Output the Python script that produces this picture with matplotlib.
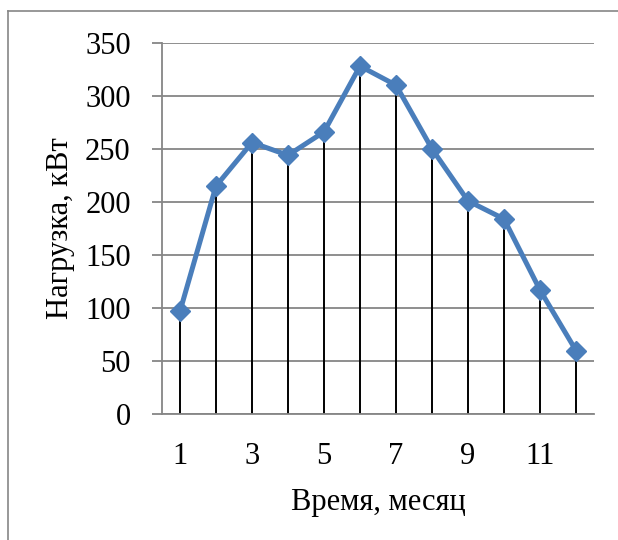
import matplotlib
matplotlib.use("Agg")
import matplotlib.pyplot as plt
from matplotlib.lines import Line2D

# Monthly load data
months = list(range(1, 13))
load_kw = [97, 215, 256, 244, 266, 328, 310, 250, 201, 184, 117, 60]
x_tick_values = [1, 3, 5, 7, 9, 11]
y_tick_values = [0, 50, 100, 150, 200, 250, 300, 350]
x_label = "Время, месяц"
y_label = "Нагрузка, кВт"

plt.rcParams["font.family"] = ["Liberation Serif", "DejaVu Serif"]

fig = plt.figure(figsize=(6.18, 5.4), dpi=100)
ax = fig.add_axes([0.2621, 0.2328, 0.6991, 0.6881])

grid_color = "#868686"
line_color = "#4A7EBB"
fs = 22

# drop lines from each point to the category axis
ax.vlines(months, 0, load_kw, colors="black", linewidth=1.4, zorder=2)
ax.plot(months, load_kw, color=line_color, linewidth=3.6, marker="D",
        markersize=10, markerfacecolor=line_color, markeredgecolor=line_color,
        zorder=3, solid_joinstyle="round")

ax.set_xlim(0.5, 12.5)
ax.set_ylim(0, 350)
ax.set_yticks(y_tick_values)
ax.set_xticks(x_tick_values)
ax.yaxis.grid(True, color=grid_color, linewidth=1.3, zorder=0)
ax.set_axisbelow(True)

for side in ("top", "right"):
    ax.spines[side].set_visible(False)
for side in ("left", "bottom"):
    ax.spines[side].set_color(grid_color)
    ax.spines[side].set_linewidth(1.3)

ax.tick_params(axis="y", direction="out", length=7.5, width=1.3,
               color=grid_color, labelsize=fs, pad=15)
ax.tick_params(axis="x", length=0, labelsize=fs, pad=20)

ax.set_xlabel(x_label, fontsize=fs, labelpad=12)
ax.set_ylabel(y_label, fontsize=fs, labelpad=7)

# outer frame of the chart area
fig.add_artist(Line2D([8 / 618, 1.0], [1 - 11 / 540, 1 - 11 / 540],
                      transform=fig.transFigure, color=grid_color, linewidth=1.2))
fig.add_artist(Line2D([8 / 618, 8 / 618], [0.0, 1 - 11 / 540],
                      transform=fig.transFigure, color=grid_color, linewidth=1.2))

fig.savefig("out.png", dpi=100)
